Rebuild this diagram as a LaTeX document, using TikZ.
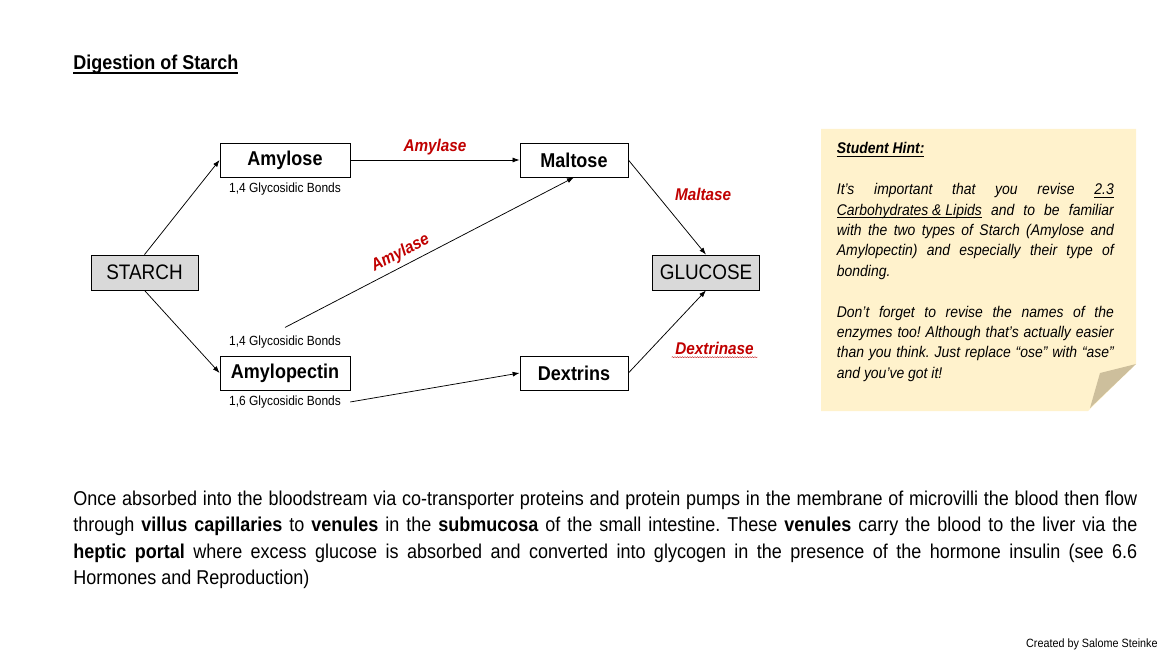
\documentclass[tikz,border=0pt]{standalone}
\usepackage{fontspec}
\setmainfont{Liberation Sans}[FakeStretch=0.9]
\usetikzlibrary{arrows.meta,positioning,decorations.pathmorphing}
\definecolor{enzred}{HTML}{C00000}
\definecolor{boxgray}{HTML}{D9D9D9}
\definecolor{notebg}{HTML}{FFF2CC}
\definecolor{notefold}{HTML}{CDBF9C}
\setlength{\parindent}{0pt}
\hyphenpenalty=10000
\exhyphenpenalty=10000
\frenchspacing
\newcommand{\ulined}[2]{\leavevmode\setbox0\hbox{#2}\rlap{\rule[\dimexpr-0.13em-#1\relax]{\wd0}{#1}}\box0\relax}
\tikzset{
  sugar/.style={draw,line width=0.8pt,minimum height=34pt,inner sep=2pt,font=\fontsize{20}{24}\selectfont\bfseries},
  endbox/.style={draw,line width=0.8pt,fill=boxgray,minimum width=107pt,minimum height=35pt,font=\fontsize{21}{24}\selectfont},
  bond/.style={inner sep=1pt,font=\fontsize{13.3}{16}\selectfont},
  enzyme/.style={text=enzred,font=\fontsize{17}{20}\selectfont\bfseries\itshape},
  wavy/.style={enzred,line width=0.35pt,decorate,decoration={snake,amplitude=0.5pt,segment length=2.5pt}},
}
\begin{document}
\begin{tikzpicture}[x=1pt,y=-1pt,>={Latex[length=7pt,width=5pt]},line width=0.75pt]
  \useasboundingbox (0,0) rectangle (1170,655);
  % title
  \node[anchor=base west,inner sep=0,font=\fontsize{20}{24}\selectfont\bfseries] (title) at (73,69.5) {\ulined{1.9pt}{Digestion of Starch}};
  % sugars
  \node[endbox] (starch) at (144.5,272.5) {STARCH};
  \node[sugar,minimum width=130pt] (amy) at (285,160) {Amylose};
  \node[sugar,minimum width=130pt] (amp) at (285,373) {Amylopectin};
  \node[sugar,minimum width=108pt] (malt) at (574,160) {Maltose};
  \node[sugar,minimum width=108pt] (dex) at (574,373) {Dextrins};
  \node[endbox] (glu) at (706,272.5) {GLUCOSE};
  % bonds
  \node[bond,below=4pt of amy] (bondA) {1,4 Glycosidic Bonds};
  \node[bond,above=6pt of amp] (bondB) {1,4 Glycosidic Bonds};
  \node[bond,below=4pt of amp] (bondC) {1,6 Glycosidic Bonds};
  % arrows
  \draw[->] (starch.north) -- (amy.west);
  \draw[->] (starch.south) -- (amp.west);
  \draw[->] (amy) -- node[enzyme,above=1pt] {Amylase} (malt);
  \draw[->] ([yshift=7pt]bondB.north) -- node[enzyme,sloped,above=1pt,pos=0.42] {Amylase} (malt.south);
  \draw[->] ([xshift=8pt]bondC.east) -- (dex.west);
  \draw[->] (malt.east) -- node[enzyme,pos=0.36,right=15pt] {Maltase} (glu.north);
  \draw[->] (dex.east) -- node[enzyme,pos=0.3,right=20pt] (dxase) {Dextrinase} (glu.south);
  \draw[wavy] ([yshift=1pt]dxase.south west) -- ([yshift=1pt]dxase.south east);
  % hint note
  \fill[notebg] (821,129) -- (1136,129) -- (1136,364) -- (1088,411) -- (821,411) -- cycle;
  \fill[notefold] (1136,364) -- (1100,373) -- (1090,408) -- cycle;
  \node[anchor=base west,inner sep=0,text width=277pt,align=justify,
        font=\fontsize{15.5}{20.4}\selectfont\itshape] (hint) at (836.5,154) {%
    \ulined{1.3pt}{\bfseries Student Hint:}\par
    \mbox{}\par
    It’s important that you revise \ulined{0.8pt}{2.3}\linebreak
    \ulined{0.8pt}{Carbohydrates \& Lipids} and to be familiar\linebreak
    with the two types of Starch (Amylose and\linebreak
    Amylopectin) and especially their type of\linebreak
    bonding.\par
    \mbox{}\par
    Don’t forget to revise the names of the\linebreak
    enzymes too! Although that’s actually easier\linebreak
    than you think. Just replace “ose” with “ase”\linebreak
    and you’ve got it!};
  % paragraph
  \node[anchor=base west,inner sep=0,text width=1064pt,align=justify,
        font=\fontsize{20}{26.3}\selectfont] (para) at (73,505.5) {%
    Once absorbed into the bloodstream via co-transporter proteins and protein pumps in the membrane of microvilli the blood then flow\linebreak
    through \textbf{villus capillaries} to \textbf{venules} in the \textbf{submucosa} of the small intestine. These \textbf{venules} carry the blood to the liver via the\linebreak
    \textbf{heptic portal} where excess glucose is absorbed and converted into glycogen in the presence of the hormone insulin (see 6.6\linebreak
    Hormones and Reproduction)};
  \node[anchor=base east,inner sep=0,font=\fontsize{12}{14}\selectfont] (credit) at (1158,647) {Created by Salome Steinke};
\end{tikzpicture}
\end{document}
